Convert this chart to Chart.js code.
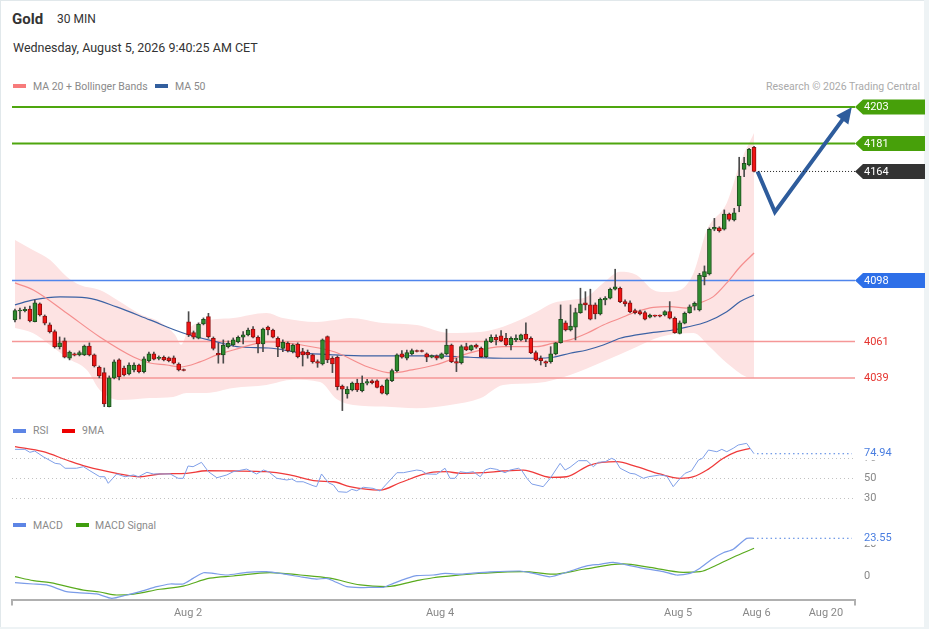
<!DOCTYPE html>
<html>
<head>
<meta charset="utf-8">
<title>Gold 30 MIN</title>
<script src="https://cdn.jsdelivr.net/npm/chart.js@4.4.1/dist/chart.umd.min.js"></script>
<style>
  html, body { margin: 0; padding: 0; background: #eef3f5; }
  body { width: 929px; height: 629px; position: relative; overflow: hidden;
         font-family: Roboto, "Liberation Sans", Arial, sans-serif; }
  #bg { position: absolute; left: 0; top: 0; width: 924px; height: 627px; background: #fff;
        box-shadow: inset 1px 1px 0 #e1e8eb; }
  canvas { position: absolute; left: 0; }
  .t { position: absolute; white-space: nowrap; color: #333; }
  .lg { position: absolute; white-space: nowrap; color: #8a8a8a; font-size: 10.5px; line-height: 13px; }
  .sw { position: absolute; width: 13px; height: 4px; }
</style>
</head>
<body>
<div id="bg"></div>

<div class="t" style="left:12px;top:10px;font-size:15px;line-height:18px;font-weight:bold;">Gold</div>
<div class="t" style="left:57px;top:12px;font-size:12px;line-height:14px;">30 MIN</div>
<div class="t" style="left:13px;top:40px;font-size:12.5px;line-height:15px;">Wednesday, August 5, 2026 9:40:25 AM CET</div>

<div class="sw" style="left:13px;top:84px;background:#f77b7b;"></div>
<div class="lg" style="left:33px;top:79.5px;">MA 20 + Bollinger Bands</div>
<div class="sw" style="left:155px;top:84px;background:#335f9e;"></div>
<div class="lg" style="left:175px;top:79.5px;">MA 50</div>
<div class="lg" style="right:9px;top:79.5px;color:#aaa;">Research © 2026 Trading Central</div>

<div class="sw" style="left:13px;top:428.5px;background:#5d85e5;"></div>
<div class="lg" style="left:33px;top:424px;">RSI</div>
<div class="sw" style="left:62px;top:428.5px;background:#ee0000;"></div>
<div class="lg" style="left:82px;top:424px;">9MA</div>

<div class="sw" style="left:13px;top:523px;background:#5d85e5;"></div>
<div class="lg" style="left:33px;top:519px;">MACD</div>
<div class="sw" style="left:76px;top:523px;background:#3f9d0e;"></div>
<div class="lg" style="left:95px;top:519px;">MACD Signal</div>

<canvas id="main" width="929" height="325" style="top:95px"></canvas>
<canvas id="rsi" width="929" height="87" style="top:420px"></canvas>
<canvas id="macd" width="929" height="122" style="top:507px"></canvas>

<script>
// 30 min candles, oldest first
const openP = [
  4074.1, 4079.5, 4079.7, 4080.7, 4073.0, 4083.8, 4076.5, 4071.2, 4067.0, 4057.9,
  4061.4, 4050.9, 4053.5, 4052.9, 4052.9, 4058.3, 4052.9, 4045.4, 4042.2, 4021.6,
  4039.0, 4049.9, 4045.0, 4041.4, 4043.8, 4046.8, 4042.8, 4049.4, 4053.5, 4050.8,
  4051.5, 4051.1, 4051.1, 4047.4, 4044.1, 4073.0, 4066.4, 4063.0, 4071.7, 4076.1,
  4063.0, 4053.9, 4052.9, 4057.9, 4058.9, 4060.9, 4063.6, 4065.0, 4068.6, 4063.6,
  4059.5, 4069.7, 4068.0, 4063.0, 4056.9, 4060.0, 4054.9, 4059.5, 4054.9, 4054.5,
  4052.9, 4048.8, 4047.4, 4064.0, 4050.9, 4051.5, 4034.1, 4029.3, 4031.7, 4035.8,
  4031.3, 4035.8, 4037.2, 4037.2, 4034.1, 4029.3, 4037.3, 4043.4, 4053.5, 4050.9,
  4053.5, 4055.6, 4055.6, 4053.5, 4051.5, 4052.3, 4050.9, 4053.5, 4058.9, 4048.8,
  4048.2, 4057.9, 4055.9, 4058.9, 4056.9, 4051.9, 4060.9, 4063.6, 4064.4, 4063.0,
  4058.9, 4062.0, 4062.0, 4065.6, 4063.0, 4054.3, 4050.9, 4048.8, 4048.8, 4053.5,
  4060.3, 4072.4, 4068.0, 4069.7, 4078.5, 4084.5, 4083.2, 4083.2, 4077.7, 4086.2,
  4087.2, 4092.7, 4093.3, 4085.2, 4084.5, 4079.7, 4079.1, 4078.5, 4075.7, 4076.9,
  4076.9, 4077.1, 4079.1, 4075.1, 4066.0, 4072.1, 4078.5, 4082.5, 4080.1, 4100.3,
  4101.9, 4129.0, 4129.9, 4129.0, 4138.2, 4134.6, 4143.1, 4165.3, 4167.9, 4178.6
];
const highP = [
  4080.7, 4081.3, 4081.9, 4082.5, 4086.2, 4084.4, 4077.1, 4072.3, 4068.0, 4063.8,
  4063.2, 4055.3, 4054.1, 4055.3, 4058.9, 4060.2, 4053.5, 4046.2, 4045.0, 4040.2,
  4049.9, 4050.5, 4046.2, 4048.1, 4048.1, 4047.4, 4051.7, 4054.7, 4054.7, 4052.3,
  4052.3, 4051.7, 4052.3, 4048.1, 4044.4, 4079.1, 4067.4, 4072.3, 4075.3, 4078.1,
  4063.8, 4060.0, 4062.0, 4061.4, 4063.2, 4064.4, 4067.0, 4069.2, 4070.0, 4064.4,
  4069.1, 4070.4, 4068.6, 4063.8, 4062.0, 4060.8, 4059.5, 4060.2, 4056.9, 4055.9,
  4053.5, 4049.9, 4062.6, 4064.4, 4051.9, 4052.3, 4034.7, 4033.7, 4036.5, 4038.2,
  4040.2, 4038.2, 4037.8, 4037.8, 4034.7, 4038.4, 4044.4, 4053.5, 4055.5, 4055.9,
  4056.5, 4055.9, 4055.9, 4054.1, 4052.9, 4052.9, 4054.1, 4068.5, 4059.5, 4050.9,
  4058.9, 4060.0, 4058.9, 4059.5, 4057.7, 4062.6, 4065.0, 4065.0, 4067.6, 4066.0,
  4063.8, 4065.0, 4065.6, 4072.4, 4063.8, 4055.3, 4052.3, 4049.3, 4057.9, 4060.5,
  4083.2, 4073.5, 4083.2, 4081.2, 4093.3, 4091.2, 4092.7, 4084.4, 4087.4, 4088.2,
  4093.4, 4104.8, 4094.0, 4086.2, 4085.6, 4080.7, 4080.1, 4079.5, 4077.7, 4077.1,
  4077.1, 4079.7, 4085.2, 4075.9, 4073.5, 4078.9, 4083.2, 4085.0, 4102.3, 4106.8,
  4129.8, 4135.6, 4130.5, 4140.7, 4138.8, 4141.7, 4172.6, 4172.6, 4178.0, 4179.2
];
const lowP = [
  4072.9, 4074.7, 4078.9, 4072.9, 4072.9, 4076.5, 4071.1, 4066.2, 4057.1, 4056.5,
  4051.1, 4049.9, 4052.3, 4052.3, 4052.5, 4052.3, 4045.6, 4039.0, 4021.6, 4021.4,
  4038.4, 4037.8, 4040.2, 4040.8, 4042.6, 4042.0, 4042.0, 4048.7, 4049.9, 4049.9,
  4049.3, 4048.7, 4047.4, 4043.2, 4043.2, 4064.0, 4062.6, 4062.6, 4071.1, 4063.0,
  4055.9, 4047.9, 4047.9, 4057.1, 4058.3, 4060.2, 4059.5, 4064.4, 4063.2, 4054.1,
  4054.9, 4065.0, 4063.2, 4051.9, 4054.9, 4054.7, 4054.1, 4051.1, 4046.2, 4050.9,
  4047.9, 4045.4, 4046.8, 4048.2, 4042.2, 4031.7, 4019.2, 4026.7, 4031.1, 4030.7,
  4030.5, 4034.7, 4035.3, 4032.9, 4029.3, 4028.7, 4036.7, 4042.6, 4050.9, 4049.9,
  4052.9, 4054.7, 4054.7, 4048.8, 4051.1, 4049.9, 4050.5, 4052.9, 4048.2, 4042.8,
  4047.4, 4055.5, 4055.3, 4056.9, 4051.3, 4051.3, 4060.3, 4058.9, 4060.9, 4058.3,
  4055.9, 4060.9, 4061.4, 4060.9, 4053.7, 4049.3, 4046.8, 4045.8, 4047.9, 4052.9,
  4060.0, 4067.4, 4067.4, 4062.0, 4078.1, 4080.1, 4074.1, 4074.7, 4077.1, 4083.2,
  4086.8, 4092.2, 4084.5, 4082.5, 4078.5, 4077.7, 4077.1, 4074.1, 4075.3, 4075.9,
  4075.9, 4076.5, 4074.7, 4066.0, 4065.6, 4071.7, 4078.1, 4080.1, 4079.5, 4095.3,
  4101.3, 4128.1, 4127.3, 4128.5, 4134.0, 4134.0, 4139.6, 4160.8, 4167.3, 4163.7
];
const closeP = [
  4079.7, 4080.1, 4080.5, 4073.5, 4084.5, 4077.1, 4072.1, 4067.0, 4057.9, 4060.3,
  4051.5, 4054.7, 4052.7, 4054.3, 4058.3, 4052.9, 4046.2, 4040.2, 4023.2, 4039.0,
  4048.7, 4039.8, 4040.8, 4046.8, 4046.8, 4042.8, 4050.5, 4053.5, 4050.3, 4051.4,
  4049.9, 4049.4, 4047.9, 4043.8, 4043.5, 4065.0, 4063.6, 4071.5, 4074.5, 4064.0,
  4056.9, 4052.9, 4058.9, 4060.0, 4062.0, 4063.6, 4065.0, 4068.0, 4063.6, 4059.5,
  4068.6, 4068.0, 4063.6, 4057.9, 4060.6, 4055.5, 4058.9, 4051.9, 4052.9, 4052.9,
  4048.8, 4047.9, 4062.0, 4049.9, 4047.4, 4033.7, 4032.1, 4032.1, 4035.8, 4031.7,
  4035.8, 4036.7, 4036.1, 4033.3, 4029.7, 4037.8, 4043.4, 4052.9, 4051.5, 4054.3,
  4055.5, 4055.0, 4055.0, 4051.5, 4052.5, 4050.9, 4053.5, 4058.9, 4048.8, 4047.9,
  4057.9, 4055.9, 4058.5, 4057.6, 4051.9, 4061.5, 4063.6, 4062.0, 4061.5, 4058.9,
  4063.0, 4063.0, 4065.0, 4062.4, 4054.3, 4049.9, 4049.4, 4047.9, 4053.5, 4060.3,
  4074.5, 4068.0, 4070.4, 4078.5, 4083.8, 4083.2, 4074.5, 4077.7, 4086.6, 4087.2,
  4092.7, 4094.2, 4085.2, 4083.8, 4079.1, 4078.5, 4077.7, 4074.5, 4077.1, 4076.4,
  4076.4, 4079.1, 4075.1, 4066.4, 4072.4, 4078.1, 4082.1, 4084.2, 4101.3, 4103.3,
  4129.0, 4130.2, 4128.1, 4138.2, 4135.0, 4139.0, 4161.2, 4168.9, 4177.4, 4164.0
];

// moving averages and bollinger bands, read at bar positions
const ma20X = [0, 3.7, 10.4, 17.1, 23.9, 27.2, 30.6, 33.3, 37.3, 40.7, 44, 51.1, 57.8, 64.5, 71.2, 75.9, 80, 84.7, 91.7, 98.4,
               105.2, 108.5, 111.9, 115.3, 118.6, 122, 125.3, 128.7, 132.1, 135.4, 138.1, 140.8, 143.5, 146.2, 149];
const ma20 = [4096.5, 4092.2, 4078.3, 4063.8, 4051.7, 4048.0, 4046.8, 4045.6, 4048.7, 4052.9, 4055.9, 4060.8, 4058.9, 4054.7, 4045.6, 4042.0, 4043.8, 4046.8, 4054.1, 4057.9,
              4057.9, 4060.0, 4062.0, 4066.0, 4071.0, 4075.1, 4079.1, 4081.7, 4082.1, 4081.3, 4084.4, 4088.2, 4096.5, 4106.3, 4114.6];
const ma50X = [0, 3.7, 9.1, 14.5, 20.5, 27.2, 33.9, 40.7, 45.4, 51.1, 57.8, 64.5, 71.2, 78, 84.7, 91.7, 98.4, 105.2, 108.5, 111.9,
               115.3, 118.6, 122, 125.3, 128.7, 132.1, 135.4, 139.5, 143.5, 146.2, 149];
const ma50 = [4083.2, 4086.2, 4088.0, 4087.4, 4082.0, 4074.1, 4066.2, 4060.8, 4057.7, 4057.1, 4054.1, 4052.9, 4052.3, 4052.3, 4052.3, 4051.5, 4050.9, 4050.9, 4051.5, 4053.9,
              4055.9, 4058.9, 4063.0, 4065.0, 4066.6, 4067.7, 4069.7, 4073.0, 4079.1, 4085.2, 4089.2];
const bbUpX = [0, 3.6, 7.1, 10.5, 13.1, 17.1, 20.6, 25.2, 29.2, 32.3, 33.5, 34.9, 37.3, 44, 50.7, 54, 60.8, 64.5, 67.5, 74.2,
               81, 87.7, 93.8, 98.4, 105.2, 108.5, 111.9, 115.3, 118.6, 122, 125.3, 128.7, 131, 134.1, 136.8, 139.5, 143.5, 146.2, 149];
const bbUp = [4122.5, 4116.4, 4110.4, 4100.1, 4095.3, 4092.2, 4086.2, 4077.7, 4072.9, 4065.0, 4059.0, 4068.0, 4072.9, 4075.3, 4078.3, 4075.3, 4072.9, 4074.1, 4075.3, 4072.3,
              4071.1, 4066.2, 4066.8, 4070.0, 4079.1, 4084.4, 4086.2, 4088.2, 4096.5, 4103.3, 4101.3, 4092.2, 4091.0, 4092.2, 4102.5, 4128.5, 4144.9, 4169.1, 4187.3];
const bbLowX = [0, 3.6, 7.1, 10.5, 14.5, 17.1, 21.2, 27.2, 31.9, 34.6, 38.6, 44, 50.7, 56.1, 61.5, 64.9, 68.2, 74.3, 81, 87.7,
                93.8, 98.4, 105.2, 111.9, 118.5, 125.3, 130, 136.8, 140.1, 143.5, 147.5, 149];
const bbLow = [4069.2, 4066.2, 4058.9, 4051.1, 4043.8, 4031.7, 4025.6, 4026.8, 4027.5, 4029.9, 4029.9, 4032.9, 4034.7, 4037.8, 4036.5, 4026.0, 4022.6, 4021.6, 4020.6, 4022.6,
               4026.6, 4034.7, 4035.9, 4040.8, 4048.7, 4057.7, 4063.8, 4066.2, 4057.7, 4048.0, 4039.6, 4039.0];

// key levels and projected path
const levels = [4203, 4181, 4098, 4061, 4039];
const levelKinds = ['res', 'res', 'pivot', 'sup', 'sup'];
const projX = [149.7, 153.2, 168.1];
const projY = [4164, 4139.5, 4200.5];

// RSI panel
const rsiX = [0, 2, 3, 4, 5.7, 8.1, 9.1, 10.1, 12.4, 13.8, 15.1, 17.1, 18.1, 18.8, 20.5, 22.2, 23.9, 24.9, 26.6, 27.9,
              31.3, 32.9, 33.9, 34.9, 35.9, 37.6, 39, 40.7, 42.7, 44, 46.7, 48.7, 50.1, 51.1, 52.8, 54.8, 55.8, 56.8, 58.1, 60.1,
              60.8, 61.8, 63.2, 64.2, 65.2, 66.9, 67.9, 68.9, 70.2, 72.2, 73.6, 74.9, 77, 78.3, 81, 82, 83, 85, 86.7, 87.7,
              88.7, 89.7, 91.1, 92.4, 93.8, 94.8, 95.8, 97.1, 98.8, 99.8, 101.5, 102.2, 103.2, 104.2, 106.5, 107.9, 109.9, 110.9, 111.9, 113.6,
              115.3, 116.6, 117.6, 119, 120.3, 121, 122, 124, 125, 126.7, 127.7, 130, 131.4, 132.7, 134.1, 135.1, 136.4, 137.8, 138.6, 139.8,
              141.5, 142.5, 143.5, 144.8, 145.8, 147.5, 148.2, 149];
const rsi = [79.4, 79.4, 76.4, 77.7, 71.9, 65.2, 64.5, 60.2, 60.2, 61.8, 57.7, 51.6, 51.6, 44.9, 54.4, 51.6, 53.4, 51.6, 56.1, 54.4,
             54.4, 50, 50, 62.5, 61.8, 66.2, 56.7, 50.6, 53.4, 56.7, 59.4, 54.4, 58.4, 56.7, 50, 48.3, 49.3, 46.5, 46.5, 42.5,
             41.5, 54.4, 45.5, 43.2, 36.4, 35.8, 38.8, 37.4, 40.9, 39.8, 37.1, 44.2, 55.7, 55.7, 58.4, 57.7, 54.4, 54.1, 60.2, 50,
             50, 56.7, 55.7, 56.7, 51.6, 58.4, 60.2, 59.1, 55.7, 58.4, 60.2, 57.7, 50, 44.2, 41.5, 50, 65.2, 58.4, 61.2, 67.9,
             67.9, 61.8, 66.2, 66.9, 70.3, 68.6, 60.2, 55.1, 54.4, 50, 51.6, 53.4, 52.3, 41.5, 50, 55.1, 57.7, 68.6, 70.3, 78.7,
             77, 79.4, 77, 80.5, 83.8, 85.5, 80.5, 74.94];
const rsiMaX = [0, 5.7, 10.4, 14.5, 20.5, 25.2, 29.2, 34.6, 38.6, 44, 50.7, 55.4, 60.8, 64.2, 67.5, 73.6, 77.6, 83.7, 87, 89.7,
                94.4, 98.4, 102.5, 107.9, 111.2, 115.9, 121.3, 125.3, 130, 134.1, 136.8, 139.5, 142.8, 145.5, 148.2];
const rsiMa = [82.1, 77, 68.6, 61.8, 55.1, 51.6, 54.4, 55.1, 57.7, 57.4, 56.7, 53.4, 47.3, 46.5, 41.5, 38.1, 45.5, 55.7, 56.7, 55.1,
               55.7, 57.4, 58.4, 51, 51.6, 63.5, 66.9, 61.8, 54.4, 50, 51.6, 58.4, 70.3, 77, 80.5];
const rsiTicks = [30, 50, 70];

// MACD panel
const macdX = [0, 3.7, 6.4, 10.4, 13.1, 16.5, 19.5, 22.5, 25.2, 28.6, 31.3, 33.9, 35.9, 38, 40, 42.7, 46.7, 50.7, 54.1, 57.5,
               60.8, 62.8, 64.2, 66.9, 69.6, 72.2, 74.3, 76.3, 79, 81, 84.3, 86.7, 89.7, 91.7, 95.8, 101.8, 104.5, 107.9, 111.2, 115.3,
               117.9, 120.6, 123.3, 126.7, 130.7, 133.4, 136.1, 138.1, 140.5, 142.8, 144.8, 147.5, 149];
const macd = [-4.2, -5.0, -5.6, -9.8, -10.5, -11.2, -14.0, -11.9, -9.8, -6.7, -5.0, -5.0, -1.5, 2.0, 1.6, 0.6, 2.3, 2.7, 1.3, -0.5,
              -2.0, -1.5, -3.1, -6.7, -7.3, -7.1, -7.1, -4.6, -1.5, 0.2, 0.6, 1.6, 1.1, 1.6, 2.5, 3.1, 1.6, -0.5, 2.3, 6.3,
              7.3, 8.5, 6.9, 4.8, 2.7, 0.6, 1.6, 4.8, 10.5, 14.5, 16.7, 23.5, 23.55];
const signalX = [0, 3.7, 7.1, 13.8, 17.1, 20.5, 23.9, 29.2, 33.9, 39.3, 44, 51.4, 57.5, 63.5, 69.6, 74.9, 81, 84.3, 89.7, 94.4,
                 102.5, 108.5, 114.6, 122.6, 128, 134.7, 138.1, 141.5, 144.8, 149];
const signal = [-0.4, -2.9, -4.2, -8.8, -10, -11.9, -11.3, -8.3, -6.3, -1.4, 0, 2.1, 0.6, -1.4, -5.6, -6.7, -2.9, -1.1, 0.6, 1.7,
                2.7, 1.1, 4.2, 7.5, 5.4, 2.3, 2.7, 6.9, 11.7, 17.3];
const macdTicks = [0, 20];

// time axis
const dateLabels = ['Aug 2', 'Aug 4', 'Aug 5', 'Aug 6', 'Aug 20'];
const dateSlots = [34.9, 85.7, 133.7, 149.5, 163.5];


const FONT = 'Roboto, "Liberation Sans", Arial, sans-serif';
Chart.defaults.font.family = FONT;
Chart.defaults.animation = false;

const X_MIN = -0.6, X_MAX = 169.35;
const LEFT_PAD = 12, AXIS_W = 74;

const pts = (xs, ys) => xs.map((x, k) => ({ x: x, y: ys[k] }));

const levelStyle = {
  res:   { line: '#4ea60e', width: 2,   tag: '#47a00a' },
  pivot: { line: '#4f85ec', width: 1.5, tag: '#2d6fe8' },
  sup:   { line: '#f59797', width: 1.5, text: '#e5342f' }
};

const isUp = closeP.map((c, i) => c >= openP[i]);
const wicks = lowP.map((l, i) => ({ x: i, y: [l, highP[i]] }));
const bodies = openP.map((o, i) => ({ x: i, y: [Math.min(o, closeP[i]), Math.max(o, closeP[i])] }));

const xHidden = { type: 'linear', min: X_MIN, max: X_MAX, offset: false, display: false };

// main price chart
const mainOverlay = {
  id: 'mainOverlay',
  afterDatasetDraw(chart, args) {
    if (chart.data.datasets[args.index].label !== 'BB lower') return;
    const { ctx, chartArea: a, scales: { y } } = chart;
    ctx.save();
    levels.forEach((v, k) => {
      const st = levelStyle[levelKinds[k]];
      const py = y.getPixelForValue(v);
      ctx.strokeStyle = st.line;
      ctx.lineWidth = st.width;
      ctx.beginPath();
      ctx.moveTo(a.left, py);
      ctx.lineTo(a.right, py);
      ctx.stroke();
    });
    ctx.restore();
  },
  afterDraw(chart) {
    const { ctx, chartArea: a, scales: { x, y } } = chart;
    const last = closeP[closeP.length - 1];
    const ly = y.getPixelForValue(last);
    ctx.save();

    // dotted last price line
    ctx.strokeStyle = '#222';
    ctx.lineWidth = 1;
    ctx.setLineDash([1, 2]);
    ctx.beginPath();
    ctx.moveTo(x.getPixelForValue(closeP.length - 1) + 4, ly);
    ctx.lineTo(a.right, ly);
    ctx.stroke();
    ctx.setLineDash([]);

    // arrow head at the end of the projection
    const pm = chart.getDatasetMeta(chart.data.datasets.length - 1).data;
    const tip = pm[pm.length - 1], prev = pm[pm.length - 2];
    const ang = Math.atan2(tip.y - prev.y, tip.x - prev.x);
    const c = Math.cos(ang), s = Math.sin(ang);
    const hx = tip.x + 5 * c, hy = tip.y + 5 * s;
    const L = 16, W = 7.5;
    ctx.fillStyle = '#2e5c9c';
    ctx.beginPath();
    ctx.moveTo(hx, hy);
    ctx.lineTo(hx - L * c + W * s, hy - L * s - W * c);
    ctx.lineTo(hx - L * c - W * s, hy - L * s + W * c);
    ctx.closePath();
    ctx.fill();

    // level tags on the right
    ctx.font = '11px ' + FONT;
    ctx.textBaseline = 'middle';
    ctx.textAlign = 'left';
    const tx = a.right;
    const tag = (py, color, text) => {
      ctx.fillStyle = color;
      ctx.beginPath();
      ctx.moveTo(tx, py);
      ctx.lineTo(tx + 8, py - 7.5);
      ctx.lineTo(tx + 70, py - 7.5);
      ctx.lineTo(tx + 70, py + 7.5);
      ctx.lineTo(tx + 8, py + 7.5);
      ctx.closePath();
      ctx.fill();
      ctx.fillStyle = '#fff';
      ctx.fillText(text, tx + 9, py + 0.5);
    };
    levels.forEach((v, k) => {
      const st = levelStyle[levelKinds[k]];
      const py = y.getPixelForValue(v);
      if (st.tag) {
        tag(py, st.tag, String(v));
      } else {
        ctx.fillStyle = st.text;
        ctx.fillText(String(v), tx + 9, py + 0.5);
      }
    });
    tag(ly, '#333333', String(Math.round(last)));
    ctx.restore();
  }
};

new Chart(document.getElementById('main'), {
  type: 'bar',
  data: {
    datasets: [
      { type: 'line', label: 'BB upper', data: pts(bbUpX, bbUp), borderWidth: 0, borderColor: 'transparent',
        pointRadius: 0, fill: false, cubicInterpolationMode: 'monotone', order: 20 },
      { type: 'line', label: 'BB lower', data: pts(bbLowX, bbLow), borderWidth: 0, borderColor: 'transparent',
        pointRadius: 0, fill: '-1', backgroundColor: '#fde3e3', cubicInterpolationMode: 'monotone', order: 19 },
      { type: 'line', label: 'MA 50', data: pts(ma50X, ma50), borderColor: '#3c62a4', borderWidth: 1.2,
        pointRadius: 0, cubicInterpolationMode: 'monotone', order: 8 },
      { type: 'line', label: 'MA 20', data: pts(ma20X, ma20), borderColor: '#f58e8e', borderWidth: 1.2,
        pointRadius: 0, cubicInterpolationMode: 'monotone', order: 7 },
      { label: 'wick', data: wicks, backgroundColor: '#4a4a4a', barThickness: 1, maxBarThickness: 1,
        grouped: false, order: 4 },
      { label: 'candle', data: bodies,
        backgroundColor: isUp.map(u => u ? '#2e8b2e' : '#f01414'),
        borderColor: isUp.map(u => u ? '#1d4f1d' : '#8e1010'),
        borderWidth: 1, borderSkipped: false, barThickness: 4, maxBarThickness: 4, minBarLength: 1,
        grouped: false, order: 3 },
      { type: 'line', label: 'projection', data: pts(projX, projY), borderColor: '#2e5c9c', borderWidth: 4,
        pointRadius: 0, borderCapStyle: 'butt', borderJoinStyle: 'miter', order: 1 }
    ]
  },
  options: {
    responsive: false,
    maintainAspectRatio: false,
    events: [],
    layout: { padding: { left: LEFT_PAD, right: AXIS_W, top: 0, bottom: 0 } },
    plugins: { legend: { display: false }, tooltip: { enabled: false } },
    scales: {
      x: xHidden,
      y: { type: 'linear', min: 4013.5, max: 4210.3, display: false }
    }
  },
  plugins: [mainOverlay]
});

// last value marker for the indicator panels
const lastValue = {
  id: 'lastValue',
  afterDraw(chart, args, opts) {
    const { ctx, chartArea: a, scales: { y } } = chart;
    const pm = chart.getDatasetMeta(opts.dataset).data;
    const end = pm[pm.length - 1];
    const py = y.getPixelForValue(opts.value);
    ctx.save();
    ctx.strokeStyle = opts.color;
    ctx.lineWidth = 1;
    ctx.setLineDash([1.5, 3]);
    ctx.beginPath();
    ctx.moveTo(end.x + 3, py);
    ctx.lineTo(a.right - 3, py);
    ctx.stroke();
    ctx.setLineDash([]);
    ctx.fillStyle = '#fff';
    ctx.fillRect(a.right + 4, py - 7.5, 50, 14);
    ctx.fillStyle = opts.color;
    ctx.font = '11px ' + FONT;
    ctx.textBaseline = 'middle';
    ctx.textAlign = 'left';
    ctx.fillText(opts.value.toFixed(2), a.right + 9, py);
    ctx.restore();
  }
};

const rightAxis = (min, max, ticks, grid) => ({
  type: 'linear', position: 'right', min: min, max: max,
  afterFit(scale) {
    scale.width = AXIS_W;
    // keep the label padding from shrinking the plot vertically
    scale.paddingTop = 0;
    scale.paddingBottom = 0;
  },
  afterBuildTicks(scale) { scale.ticks = ticks.map(v => ({ value: v })); },
  grid: grid ? { color: '#c2c2c2', lineWidth: 1, drawTicks: false } : { display: false, drawTicks: false },
  border: { display: false, dash: [1, 3] },
  ticks: { color: '#888', font: { size: 11 }, padding: 9 }
});

// RSI
new Chart(document.getElementById('rsi'), {
  type: 'line',
  data: {
    datasets: [
      { label: 'RSI', data: pts(rsiX, rsi), borderColor: '#7f9fe8', borderWidth: 1, pointRadius: 0, tension: 0 },
      { label: '9MA', data: pts(rsiMaX, rsiMa), borderColor: '#ef3a3a', borderWidth: 1.3, pointRadius: 0,
        cubicInterpolationMode: 'monotone' }
    ]
  },
  options: {
    responsive: false,
    maintainAspectRatio: false,
    events: [],
    layout: { padding: { left: LEFT_PAD, right: 0, top: 20, bottom: 2 } },
    plugins: {
      legend: { display: false }, tooltip: { enabled: false },
      lastValue: { dataset: 0, value: rsi[rsi.length - 1], color: '#4a7ee0' }
    },
    scales: {
      x: xHidden,
      y: rightAxis(22.9, 88.9, rsiTicks, true)
    }
  },
  plugins: [lastValue]
});

// MACD with the shared time axis
const axisEnds = {
  id: 'axisEnds',
  afterDraw(chart) {
    const { ctx, chartArea: a } = chart;
    ctx.save();
    ctx.strokeStyle = '#b0b0b0';
    ctx.lineWidth = 2;
    ctx.beginPath();
    ctx.moveTo(a.left, a.bottom);
    ctx.lineTo(a.left, a.bottom + 6);
    ctx.moveTo(a.right, a.bottom);
    ctx.lineTo(a.right, a.bottom + 6);
    ctx.stroke();
    ctx.restore();
  }
};

new Chart(document.getElementById('macd'), {
  type: 'line',
  data: {
    datasets: [
      { label: 'MACD', data: pts(macdX, macd), borderColor: '#7b9ce8', borderWidth: 1.2, pointRadius: 0, tension: 0.2 },
      { label: 'MACD Signal', data: pts(signalX, signal), borderColor: '#5aab1e', borderWidth: 1.2, pointRadius: 0,
        cubicInterpolationMode: 'monotone' }
    ]
  },
  options: {
    responsive: false,
    maintainAspectRatio: false,
    events: [],
    layout: { padding: { left: LEFT_PAD, right: 0, top: 28, bottom: 0 } },
    plugins: {
      legend: { display: false }, tooltip: { enabled: false },
      lastValue: { dataset: 0, value: macd[macd.length - 1], color: '#4a7ee0' }
    },
    scales: {
      x: {
        type: 'linear', min: X_MIN, max: X_MAX, offset: false,
        afterFit(scale) { scale.height = 29.5; },
        afterBuildTicks(scale) { scale.ticks = dateSlots.map(v => ({ value: v })); },
        grid: { display: false, drawTicks: false },
        border: { display: true, color: '#b0b0b0', width: 2 },
        ticks: {
          autoSkip: false, maxRotation: 0, minRotation: 0, padding: 7,
          color: '#888', font: { size: 11 },
          callback: (v, idx) => dateLabels[idx]
        }
      },
      y: rightAxis(-14.7, 25.6, macdTicks, false)
    }
  },
  plugins: [lastValue, axisEnds]
});
</script>
</body>
</html>
